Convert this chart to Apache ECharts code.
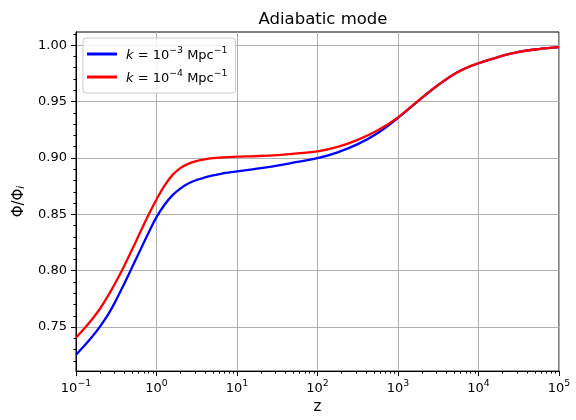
<!DOCTYPE html>
<html>
<head>
<meta charset="utf-8">
<script src="https://cdn.jsdelivr.net/npm/echarts@6/dist/echarts.min.js"></script>
<style>html,body{margin:0;padding:0;background:#fff}#c{width:576px;height:420px}</style>
</head>
<body>
<div id="c"></div>
<script>
var zValues = [0.1, 0.1259, 0.1585, 0.1995, 0.2512, 0.3162, 0.3981, 0.5012, 0.631, 0.7943,
  1, 1.259, 1.585, 1.995, 2.512, 3.162, 3.981, 5.012, 6.31, 7.943,
  10, 17.78, 31.62, 56.23, 100, 177.8, 316.2, 562.3, 1000, 1778, 3162, 5623, 10000, 17783, 31623, 56234, 100000];
var phiK3 = [0.7255, 0.7332, 0.7415, 0.7507, 0.7613, 0.7742, 0.7885, 0.8035, 0.8185, 0.8335,
  0.8475, 0.8585, 0.8670, 0.8730, 0.8775, 0.8805, 0.8827, 0.8845, 0.8859, 0.8871,
  0.8882, 0.8905, 0.8932, 0.8965, 0.8998, 0.9050, 0.9123, 0.9222, 0.9355, 0.9505, 0.9647, 0.9765, 0.9840, 0.9896, 0.9940, 0.9966, 0.9982];
var phiK4 = [0.7406, 0.7485, 0.7570, 0.7665, 0.7780, 0.7907, 0.8045, 0.8192, 0.8345, 0.8495,
  0.8632, 0.8755, 0.8850, 0.8912, 0.8950, 0.8973, 0.8988, 0.8998, 0.9004, 0.9008,
  0.9011, 0.9017, 0.9026, 0.9040, 0.9058, 0.9098, 0.9160, 0.9245, 0.9360, 0.9507, 0.9648, 0.9765, 0.9840, 0.9896, 0.9940, 0.9966, 0.9982];
var yTicks = [0.75, 0.80, 0.85, 0.90, 0.95, 1.00];
var xTicks = [0.1, 1, 10, 100, 1000, 10000, 100000];
var seriesNames = ['k3', 'k4'];

var xMinor = [];
for (var d = 0; d < xTicks.length - 1; d++) {
  for (var m = 2; m <= 9; m++) xMinor.push(+(m * xTicks[d]).toPrecision(6));
}
var yMinor = [];
for (var i = 72; i <= 101; i++) { if (i % 5 !== 0) yMinor.push(i / 100); }

function pairs(xs, ys) { return xs.map(function (x, i) { return [x, ys[i]]; }); }

var FONT = 'DejaVu Sans';
var chart = echarts.init(document.getElementById('c'), null, { renderer: 'canvas' });
function rich(sz) {
  return {
    g: { width: 4 },
    b: { fontFamily: FONT, fontSize: sz, color: '#000', lineHeight: 16, verticalAlign: 'bottom' },
    s: { fontFamily: FONT, fontSize: sz * 0.72, color: '#000', lineHeight: 16, verticalAlign: 'top' },
    i: { fontFamily: FONT, fontSize: sz, color: '#000', fontStyle: 'italic', lineHeight: 16, verticalAlign: 'bottom' }
  };
}
chart.setOption({
  animation: false,
  backgroundColor: '#fff',
  title: {
    text: 'Adiabatic mode', left: 318, top: 6, textAlign: 'center',
    textStyle: { fontFamily: FONT, fontSize: 16.5, fontWeight: 'normal', color: '#000' }
  },
  grid: { left: 76, right: 17, top: 32, bottom: 45, show: true, borderColor: '#000', borderWidth: 1, backgroundColor: 'transparent' },
  legend: {
    orient: 'vertical', left: 83, top: 38,
    padding: [8, 8, 8, 4], itemGap: 7,
    backgroundColor: 'rgba(255,255,255,0.85)', borderColor: '#cccccc', borderWidth: 1, borderRadius: 3,
    itemWidth: 30, itemHeight: 3, icon: 'rect',
    data: seriesNames,
    formatter: function (n) {
      var e = n === 'k3' ? '−3' : '−4';
      return '{g|}{i|k}{b| = 10}{s|' + e + '}{b| Mpc}{s|−1}';
    },
    textStyle: { fontFamily: FONT, fontSize: 13, color: '#000', rich: rich(13) }
  },
  xAxis: [{
    type: 'log', logBase: 10, min: 0.1, max: 100000,
    name: 'z', nameLocation: 'middle', nameGap: 27,
    nameTextStyle: { fontFamily: FONT, fontSize: 15, color: '#000' },
    axisLine: { show: true, onZero: false, lineStyle: { color: '#000', width: 1 } },
    axisTick: { show: true, length: 5, lineStyle: { color: '#000' } },
    axisLabel: {
      margin: 8, color: '#000',
      formatter: function (v) {
        var e = Math.round(Math.log10(v));
        return '{b|10}{s|' + (e < 0 ? '−' + (-e) : e) + '}';
      },
      rich: rich(13)
    },
    splitLine: { show: true, lineStyle: { color: '#b0b0b0', width: 1 } }
  }, {
    type: 'log', logBase: 10, min: 0.1, max: 100000, position: 'bottom',
    axisLine: { show: false },
    axisLabel: { show: false },
    splitLine: { show: false },
    axisTick: { show: true, length: 2.5, customValues: xMinor, lineStyle: { color: '#000' } }
  }],
  yAxis: [{
    type: 'value', min: 0.711, max: 1.0117,
    name: 'Φ/Φ{sub|i}', nameLocation: 'middle', nameGap: 47, nameRotate: 90,
    nameTextStyle: { fontFamily: FONT, fontSize: 15, color: '#000',
      rich: { sub: { fontFamily: FONT, fontSize: 10.5, fontStyle: 'italic', color: '#000', verticalAlign: 'bottom', padding: [6, 0, 0, 0] } } },
    axisLine: { show: true, onZero: false, lineStyle: { color: '#000', width: 1 } },
    axisTick: { show: true, length: 5, customValues: yTicks, lineStyle: { color: '#000' } },
    axisLabel: { margin: 9, color: '#000', fontFamily: FONT, fontSize: 13, customValues: yTicks,
      formatter: function (v) { return v.toFixed(2); } },
    splitLine: { show: true, lineStyle: { color: '#b0b0b0', width: 1 } }
  }, {
    type: 'value', min: 0.711, max: 1.0117, position: 'left',
    axisLine: { show: false }, axisLabel: { show: false }, splitLine: { show: false },
    axisTick: { show: true, length: 2.5, customValues: yMinor, lineStyle: { color: '#000' } }
  }],
  series: [{
    name: 'k3', type: 'line', smooth: 0.4, showSymbol: false, symbol: 'none',
    data: pairs(zValues, phiK3),
    lineStyle: { color: '#0000ff', width: 2.3 }, itemStyle: { color: '#0000ff' }
  }, {
    name: 'k4', type: 'line', smooth: 0.4, showSymbol: false, symbol: 'none',
    data: pairs(zValues, phiK4),
    lineStyle: { color: '#ff0000', width: 2.3 }, itemStyle: { color: '#ff0000' }
  }]
});
</script>
</body>
</html>
